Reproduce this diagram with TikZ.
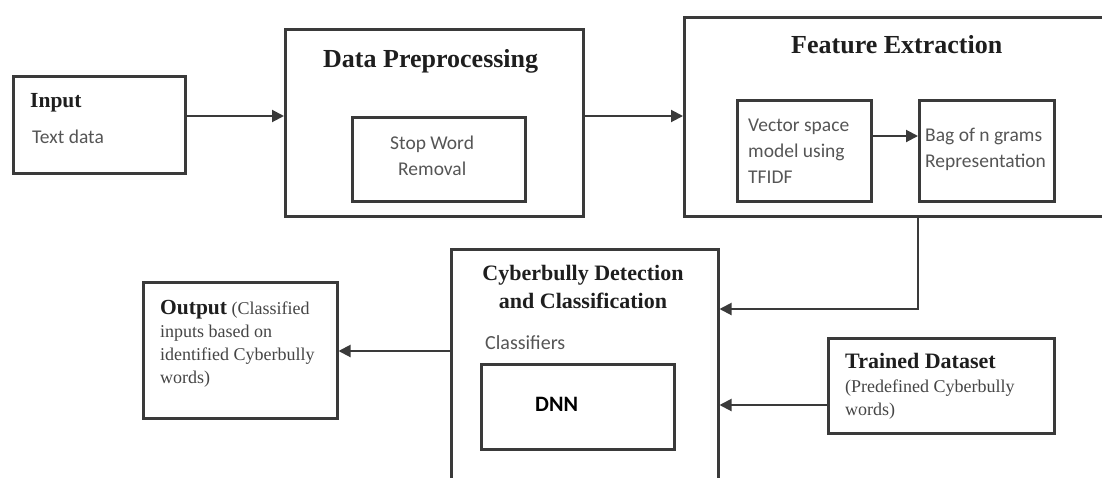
\documentclass[tikz,border=0pt]{standalone}
\usepackage{fontspec}
\setmainfont{Liberation Serif}
\newfontfamily\calfont{Carlito}
\usetikzlibrary{arrows.meta}
\definecolor{ln}{HTML}{3A3A3A}
\definecolor{hd}{HTML}{1E1E1E}
\definecolor{bodyc}{HTML}{555555}
\definecolor{outc}{HTML}{454545}
\begin{document}
\begin{tikzpicture}[x=1pt,y=-1pt,
  box/.style={draw=ln, line width=2.5pt, inner sep=0pt, anchor=north west},
  arr/.style={draw=ln, line width=2pt, -{Triangle[length=12pt,width=12pt]}},
  headbig/.style={font=\fontsize{26}{30}\selectfont\bfseries, text=hd, inner sep=0pt, anchor=base west},
  headmid/.style={font=\fontsize{22}{28}\selectfont\bfseries, text=hd, inner sep=0pt},
  calib/.style={font=\calfont\fontsize{19.5}{26}\selectfont, text=bodyc, inner sep=0pt},
  serifsmall/.style={font=\fontsize{18}{23}\selectfont, text=outc, inner sep=0pt, anchor=base west, align=left}
]
\useasboundingbox (0,0) rectangle (1102,477);
\clip (0,0) rectangle (1102,477);

% boxes
\node[box, minimum width=172pt, minimum height=97pt] (inp) at (12,75) {};
\node[box, minimum width=298pt, minimum height=187pt] (dp) at (284,28) {};
\node[box, minimum width=173pt, minimum height=84pt] (sw) at (351,116) {};
\node[box, minimum width=427pt, minimum height=199pt] (fe) at (683,16) {};
\node[box, minimum width=134pt, minimum height=101pt] (vsm) at (736,99) {};
\node[box, minimum width=135pt, minimum height=101pt] (bag) at (918,99) {};
\node[box, minimum width=267pt, minimum height=250pt] (cd) at (450,248) {};
\node[box, minimum width=193pt, minimum height=85pt] (dnn) at (480,363) {};
\node[box, minimum width=194pt, minimum height=136pt] (out) at (142,281) {};
\node[box, minimum width=226pt, minimum height=95pt] (td) at (827,337) {};

% texts (multi-line nodes: base = baseline of last line)
\node[font=\fontsize{21.5}{26}\selectfont\bfseries, text=hd, inner sep=0pt, anchor=base west] (tinp) at (30,107) {Input};
\node[calib, anchor=base west] (ttext) at (32,143) {Text data};
\node[headbig] (tdp) at (323,67) {Data Preprocessing};
\node[calib, anchor=base west, align=left] (tsw) at (390,175) {Stop Word\\\hspace*{8pt}Removal};
\node[headbig] (tfe) at (791,53) {Feature Extraction};
\node[calib, anchor=base west, align=left] (tvsm) at (748,183) {Vector space\\model using\\TFIDF};
\node[calib, anchor=base west, align=left] (tbag) at (925,167) {Bag of n grams\\Representation};
\node[headmid, anchor=base, align=center] (tcd) at (583,308) {Cyberbully Detection\\and Classification};
\node[calib, font=\calfont\fontsize{20}{26}\selectfont, anchor=base west] (tcls) at (485,349) {Classifiers};
\node[font=\calfont\fontsize{22}{26}\selectfont\bfseries, text=black, inner sep=0pt, anchor=base west] (tdnn) at (535,411) {DNN};
\node[serifsmall] (tout) at (160,383) {{\fontsize{21.5}{23}\selectfont\bfseries\color{hd}Output} (Classified\\inputs based on\\identified Cyberbully\\words)};
\node[headmid, anchor=base west] (ttd) at (845,368) {Trained Dataset};
\node[serifsmall, font=\fontsize{18}{22.5}\selectfont] (ttd2) at (845,415) {(Predefined Cyberbully\\words)};

% connectors
\coordinate (y1) at (0,116);
\coordinate (y2) at (0,136);
\coordinate (y3) at (0,309);
\coordinate (y4) at (0,405);
\coordinate (y5) at (0,351);
\draw[arr] (inp.east |- y1) -- (dp.west |- y1);
\draw[arr] (dp.east |- y1) -- (fe.west |- y1);
\draw[arr] (vsm.east |- y2) -- (bag.west |- y2);
\draw[arr] (bag.west |- fe.south) |- (cd.east |- y3);
\draw[arr] (td.west |- y4) -- (cd.east |- y4);
\draw[arr] (cd.west |- y5) -- (out.east |- y5);
\end{tikzpicture}
\end{document}
